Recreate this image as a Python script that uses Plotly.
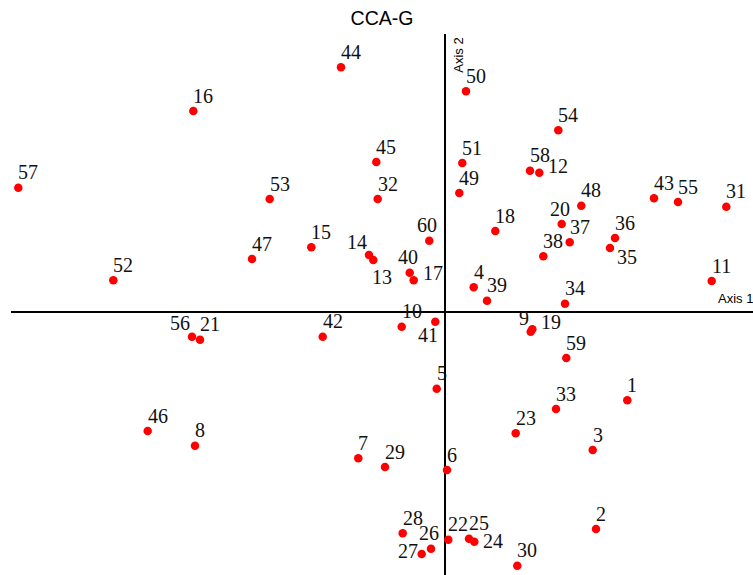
import plotly.graph_objects as go

# Site labels and CCA scores (Axis 1, Axis 2)
labels = [str(i) for i in range(1, 61)]
axis1 = [1.820, 1.507, 1.474, 0.284, -0.086, 0.017, -0.870, -2.503, 0.854, -0.436,
         2.664, 0.940, -0.720, -0.763, -1.340, -2.520, -0.316, 0.500, 0.870, 1.164,
         -2.453, 0.030, 0.704, 0.290, 0.237, -0.143, -0.236, -0.426, -0.603, 0.720,
         2.810, -0.676, 1.107, 1.197, 1.647, 1.697, 1.244, 0.980, 0.417, -0.356,
         -0.100, -1.226, 2.087, -1.043, -0.690, -2.976, -1.933, 1.360, 0.140, 0.207,
         0.170, -3.320, -1.756, 1.130, 2.327, -2.533, -4.270, 0.847, 1.210, -0.160]
axis2 = [-0.881, -2.168, -1.378, 0.249, -0.765, -1.578, -1.461, -1.335, -0.195, -0.145,
         0.312, 1.395, 0.522, 0.572, 0.649, 2.012, 0.319, 0.812, -0.171, 0.882,
         -0.275, -2.275, -1.211, -2.295, -2.265, -2.365, -2.418, -2.211, -1.548, -2.535,
         1.055, 1.132, -0.968, 0.085, 0.642, 0.742, 0.699, 0.559, 0.115, 0.395,
         -0.095, -0.245, 1.139, 2.449, 1.502, -1.188, 0.532, 1.065, 1.192, 2.209,
         1.492, 0.319, 1.132, 1.819, 1.102, -0.245, 1.245, 1.415, -0.458, 0.715]

# label placement codes (style)
label_pos = ["tr", "tr", "tr", "tr", "tr", "tr", "tr", "tr", "tl", "tr",
             "tr", "ur", "br", "tl", "tr", "tr", "ur", "tr", "ur", "tc",
             "tr", "tr", "tr", "r", "tr", "tc", "l", "tr", "tr", "tr",
             "tr", "tr", "tr", "tr", "dr", "tr", "tr", "tr", "tr", "tc",
             "bl", "tr", "tr", "tr", "tr", "tr", "tr", "tr", "tr", "tr",
             "tr", "tr", "tr", "tr", "tr", "tl", "tr", "tr", "tr", "tc"]

pos_style = {
    "tr": ("left", 0, 15.5),
    "tl": ("right", -2, 13.5),
    "tc": ("center", -2, 15.5),
    "br": ("left", -1, -17),
    "bl": ("right", 3, -13),
    "r": ("left", 9, 1),
    "ur": ("left", 9, 7),
    "dr": ("left", 7, -8.7),
    "l": ("right", -3.5, 3),
}

fig = go.Figure()
fig.add_trace(go.Scatter(
    x=axis1, y=axis2, mode="markers",
    marker=dict(color="#ff0000", size=8.5, line=dict(width=0)),
    cliponaxis=False, hoverinfo="text", text=labels,
))

annotations = []
for lab, xv, yv, p in zip(labels, axis1, axis2, label_pos):
    xa, xs, ys = pos_style[p]
    annotations.append(dict(
        x=xv, y=yv, xref="x", yref="y", text=lab, showarrow=False,
        xanchor=xa, yanchor="middle", xshift=xs, yshift=ys,
        borderpad=0, borderwidth=0,
        font=dict(family="Liberation Serif", size=20, color="#111111"),
    ))

annotations.append(dict(
    x=0.6034, y=0.9612, xref="paper", yref="paper", text="Axis 2",
    showarrow=False, textangle=-90, xanchor="center", yanchor="middle",
    borderpad=0, borderwidth=0,
    font=dict(family="Liberation Sans", size=13, color="#000000"),
))
annotations.append(dict(
    x=0.9533, y=0.5115, xref="paper", yref="paper", text="Axis 1",
    showarrow=False, xanchor="left", yanchor="middle",
    borderpad=0, borderwidth=0,
    font=dict(family="Liberation Sans", size=13, color="#000000"),
))

fig.update_layout(
    width=753, height=575,
    margin=dict(l=11, r=0, t=34, b=0),
    paper_bgcolor="white", plot_bgcolor="white",
    showlegend=False,
    title=dict(text="CCA-G", x=0.5, xref="paper", y=1 - 17.8 / 575, yref="container",
               xanchor="center", yanchor="middle",
               font=dict(family="Liberation Sans", size=19.5, color="#000000")),
    xaxis=dict(range=[-4.343, 3.077], showgrid=False, showticklabels=False,
               ticks="", zeroline=True, zerolinecolor="#000000", zerolinewidth=2,
               showline=False, fixedrange=True),
    yaxis=dict(range=[-2.628, 2.782], showgrid=False, showticklabels=False,
               ticks="", zeroline=True, zerolinecolor="#000000", zerolinewidth=2,
               showline=False, fixedrange=True),
    annotations=annotations,
)

fig.write_html(
    "out.html",
    config={"displayModeBar": False},
    post_script="document.body.style.margin='0';document.body.style.overflow='hidden';",
)
